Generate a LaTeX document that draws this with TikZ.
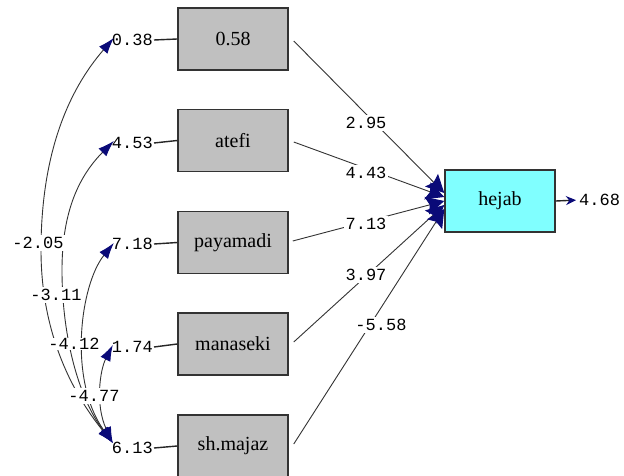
\documentclass[tikz,border=0pt]{standalone}
\usepackage{fontspec}
\setmainfont{Liberation Serif}
\newfontfamily\numfont{Liberation Mono}
\usetikzlibrary{arrows.meta,calc}
\definecolor{boxgray}{HTML}{C0C0C0}
\definecolor{hcyan}{HTML}{80FFFF}
\definecolor{arrnavy}{HTML}{0A0A78}
\tikzset{
  varbox/.style={draw=black!80, line width=1.5pt, fill=boxgray, minimum width=110pt, minimum height=62pt, inner sep=0pt, font=\fontsize{20}{22}\selectfont},
  num/.style={font=\numfont\fontsize{17}{18}\selectfont, inner sep=1pt},
  numw/.style={num, fill=white, inner sep=2pt},
  conn/.style={draw=black!80, line width=0.9pt},
  intip/.style={-{Stealth[length=18pt,width=18pt,inset=3pt,color=arrnavy]}},
  covtip/.style={{Latex[length=16pt,width=11pt,color=arrnavy]}-{Latex[length=16pt,width=11pt,color=arrnavy]}},
  errline/.style={draw=black!85, line width=1.4pt}
}
\begin{document}
\begin{tikzpicture}[x=1pt,y=-1pt]
\useasboundingbox (0,0) rectangle (624,476);
\clip (0,0) rectangle (624,476);
\fill[white] (0,0) rectangle (624,476);

% observed variable boxes
\node[varbox] (b1) at (233,39) {0.58};
\node[varbox] (b2) at (233,140.5) {atefi};
\node[varbox] (b3) at (233,242.5) {payamadi};
\node[varbox] (b4) at (233,344) {manaseki};
\node[varbox] (b5) at (233,446) {sh.majaz};
\node[varbox, fill=hcyan] (h) at (500,201) {hejab};

% error labels
\node[num, anchor=east] (e1) at (154,40) {0.38};
\node[num, anchor=east] (e2) at (154,143) {4.53};
\node[num, anchor=east] (e3) at (154,244) {7.18};
\node[num, anchor=east] (e4) at (154,347) {1.74};
\node[num, anchor=east] (e5) at (154,448) {6.13};
\draw[errline] (e1.east) -- (b1.west);
\draw[errline] (e2.east) -- (b2.west);
\draw[errline] (e3.east) -- (b3.west);
\draw[errline] (e4.east) -- (b4.west);
\draw[errline] (e5.east) -- (b5.west);

% paths to hejab
\draw[conn, intip] ($(b1.east)+(5,2)$) -- ($(h.west)+(0,-8)$);
\draw[conn, intip] ($(b2.east)+(5,1.5)$) -- ($(h.west)+(0,-4)$);
\draw[conn, intip] ($(b3.east)+(4,-1.5)$) -- ($(h.west)+(0,0)$);
\draw[conn, intip] ($(b4.east)+(5,-2)$) -- ($(h.west)+(0,4)$);
\draw[conn, intip] ($(b5.east)+(5,-2)$) -- ($(h.west)+(0,8)$);

\node[numw] (p1) at (366,123) {2.95};
\node[numw] (p2) at (366,173) {4.43};
\node[numw] (p3) at (366,224) {7.13};
\node[numw] (p4) at (366,275) {3.97};
\node[numw] (p5) at (381,325) {-5.58};

% error of hejab
\node[num, anchor=west, inner sep=0pt] (e6) at (579,200) {4.68};
\draw[errline, -{Stealth[length=10pt,width=9pt,color=arrnavy]}, shorten >=3pt] (h.east) -- (e6.west);

% covariance curves
\coordinate (c1) at ($(e1.west)+(3,-2)$);
\coordinate (c2) at ($(e2.west)+(3,-2)$);
\coordinate (c3) at ($(e3.west)+(3,-1)$);
\coordinate (c4) at ($(e4.west)+(2,-2)$);
\coordinate (c5) at ($(e5.west)+(2,-5)$);
\draw[conn, covtip] (c1) .. controls (60,100) and (41,170) .. (41,250) .. controls (41,330) and (70,390) .. (c5);
\draw[conn, covtip] (c2) .. controls (80,175) and (62,210) .. (62,270) .. controls (62,340) and (80,400) .. (c5);
\draw[conn, covtip] (c3) .. controls (80,285) and (68,380) .. (c5);
\draw[conn, covtip] (c4) .. controls (100,370) and (95,405) .. (c5);

\node[numw] (r1) at (38,243) {-2.05};
\node[numw] (r2) at (56,295) {-3.11};
\node[numw, inner sep=0pt] (r3) at (74,344) {-4.12};
\node[numw] (r4) at (94,396) {-4.77};
\end{tikzpicture}
\end{document}
